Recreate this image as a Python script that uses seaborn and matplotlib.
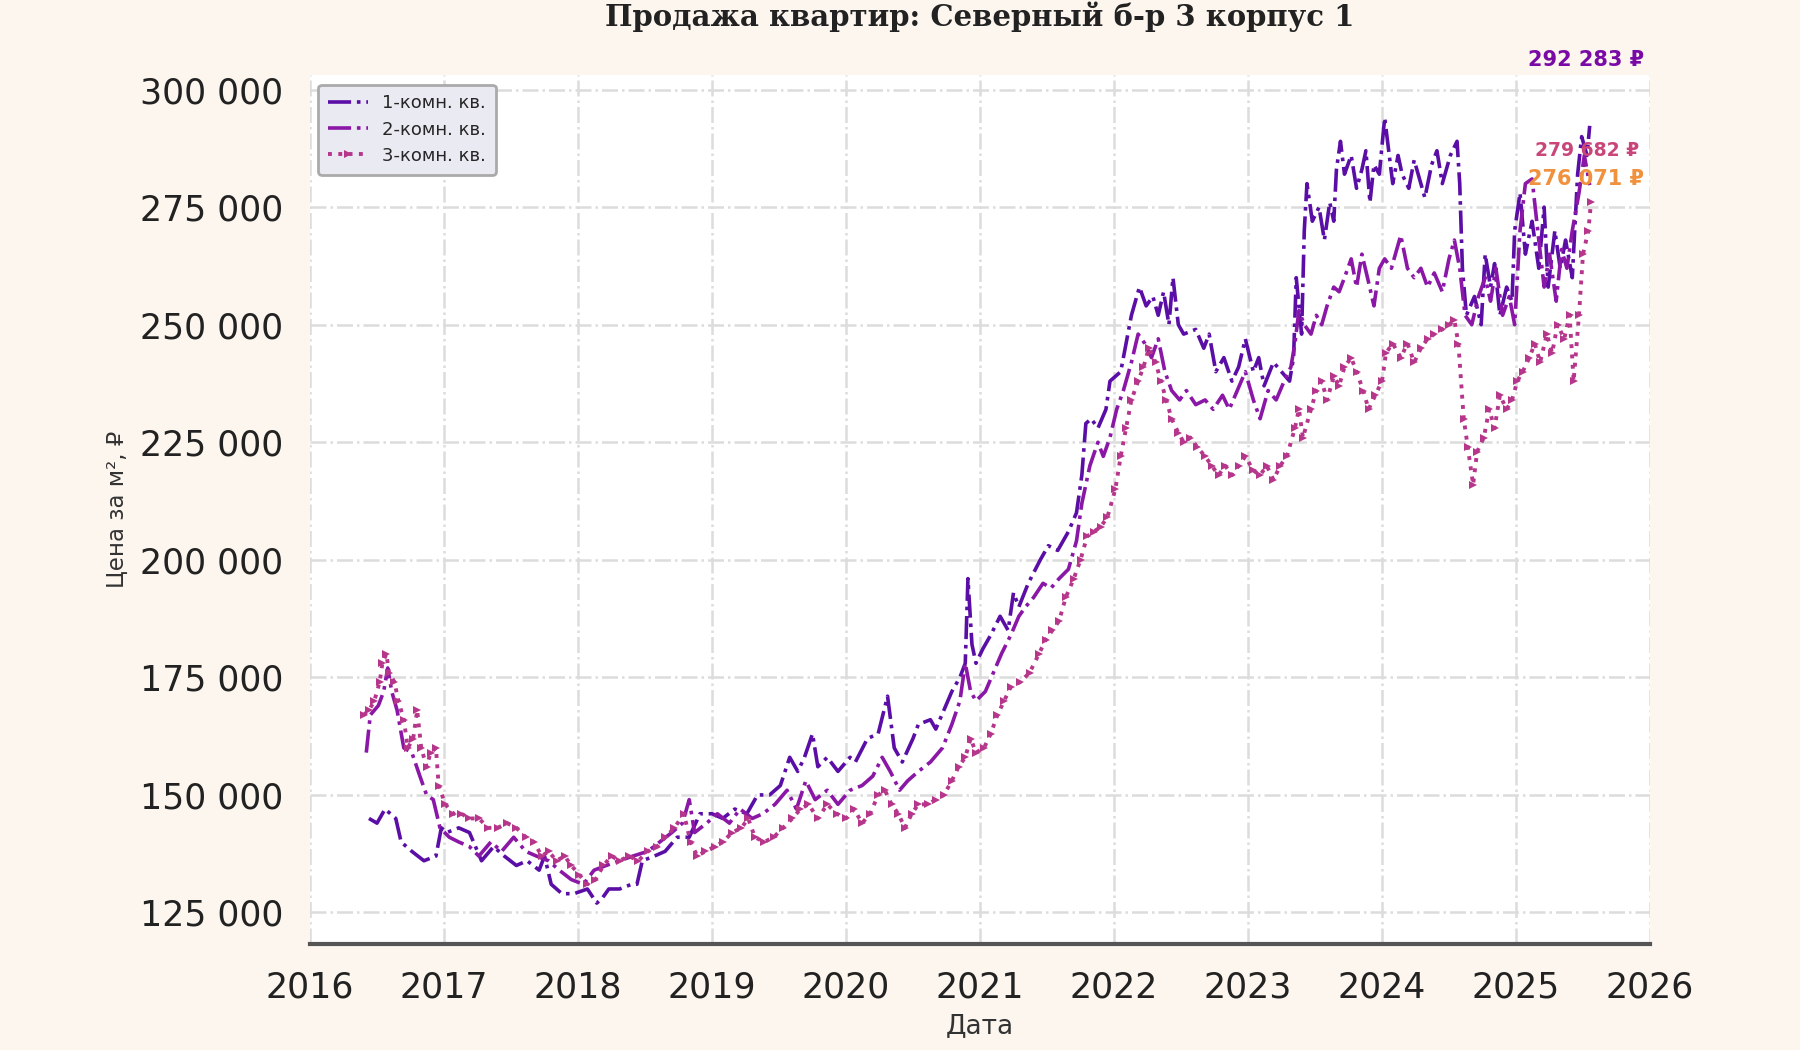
import numpy as np
import pandas as pd
import matplotlib
matplotlib.use("Agg")
import matplotlib.pyplot as plt
from matplotlib.ticker import FuncFormatter
import seaborn as sns

# ---------------- data (decimal years, price per m2 in thousands RUB) ----------------
yr1 = [2016.44, 2016.50, 2016.56, 2016.64, 2016.68, 2016.76, 2016.85, 2016.94, 2016.98, 2017.02,
       2017.11, 2017.19, 2017.28, 2017.37, 2017.45, 2017.54, 2017.62, 2017.71, 2017.75, 2017.80,
       2017.88, 2017.97, 2018.07, 2018.14, 2018.18, 2018.23, 2018.31, 2018.40, 2018.44, 2018.48,
       2018.57, 2018.65, 2018.74, 2018.83, 2018.91, 2019.00, 2019.08, 2019.17, 2019.26, 2019.34,
       2019.43, 2019.51, 2019.58, 2019.64, 2019.69, 2019.75, 2019.79, 2019.86, 2019.94, 2020.03,
       2020.07, 2020.16, 2020.24, 2020.31, 2020.36, 2020.42, 2020.50, 2020.54, 2020.63, 2020.67,
       2020.73, 2020.79, 2020.85, 2020.89, 2020.91, 2020.94, 2020.97, 2021.02, 2021.08, 2021.15,
       2021.21, 2021.25, 2021.29, 2021.36, 2021.45, 2021.51, 2021.58, 2021.66, 2021.72, 2021.76,
       2021.79, 2021.83, 2021.88, 2021.94, 2021.97, 2022.05, 2022.13, 2022.19, 2022.24, 2022.29,
       2022.33, 2022.37, 2022.41, 2022.44, 2022.48, 2022.52, 2022.61, 2022.67, 2022.71, 2022.76,
       2022.82, 2022.88, 2022.93, 2022.98, 2023.04, 2023.08, 2023.12, 2023.19, 2023.25, 2023.31,
       2023.34, 2023.36, 2023.40, 2023.42, 2023.44, 2023.48, 2023.53, 2023.57, 2023.61, 2023.64,
       2023.66, 2023.69, 2023.72, 2023.77, 2023.81, 2023.85, 2023.88, 2023.91, 2023.94, 2023.98,
       2024.02, 2024.05, 2024.08, 2024.12, 2024.15, 2024.20, 2024.24, 2024.29, 2024.32, 2024.37,
       2024.41, 2024.45, 2024.51, 2024.56, 2024.58, 2024.60, 2024.63, 2024.69, 2024.74, 2024.77,
       2024.81, 2024.84, 2024.88, 2024.93, 2024.97, 2024.99, 2025.03, 2025.07, 2025.12, 2025.17,
       2025.21, 2025.24, 2025.29, 2025.33, 2025.37, 2025.42, 2025.46, 2025.49, 2025.53, 2025.55]
val1 = [145, 144, 147, 145, 140, 138, 136, 137, 143, 142,
        143, 142, 136, 139, 137, 135, 136, 134, 137, 131,
        129, 129, 130, 127, 128, 130, 130, 131, 131, 136,
        137, 138, 141, 141, 146, 146, 145, 147, 146, 150,
        150, 152, 158, 155, 158, 163, 156, 158, 155, 158,
        157, 162, 163, 171, 160, 157, 162, 165, 166, 164,
        168, 172, 175, 178, 196, 182, 178, 181, 184, 188,
        185, 193, 190, 195, 200, 203, 202, 206, 210, 218,
        229, 230, 228, 232, 238, 240, 252, 258, 254, 256,
        252, 257, 250, 260, 250, 248, 249, 245, 248, 240,
        243, 238, 241, 247, 240, 243, 237, 242, 240, 238,
        243, 260, 248, 270, 280, 272, 275, 268, 276, 272,
        283, 289, 282, 286, 279, 283, 287, 276, 284, 282,
        294, 287, 280, 286, 282, 279, 285, 280, 277, 284,
        287, 280, 286, 289, 280, 262, 252, 256, 250, 265,
        258, 263, 252, 258, 255, 270, 278, 265, 272, 262,
        275, 258, 270, 262, 268, 260, 282, 290, 286, 292.283]

yr2 = [2016.42, 2016.45, 2016.51, 2016.55, 2016.58, 2016.61, 2016.65, 2016.70, 2016.76, 2016.82,
       2016.87, 2016.92, 2016.97, 2017.04, 2017.11, 2017.19, 2017.26, 2017.35, 2017.43, 2017.52,
       2017.61, 2017.69, 2017.78, 2017.86, 2017.95, 2018.04, 2018.12, 2018.21, 2018.31, 2018.41,
       2018.52, 2018.61, 2018.70, 2018.78, 2018.83, 2018.87, 2018.96, 2019.04, 2019.13, 2019.21,
       2019.30, 2019.38, 2019.47, 2019.56, 2019.63, 2019.70, 2019.77, 2019.86, 2019.94, 2020.03,
       2020.12, 2020.20, 2020.27, 2020.33, 2020.40, 2020.46, 2020.54, 2020.63, 2020.72, 2020.79,
       2020.85, 2020.89, 2020.93, 2020.97, 2021.04, 2021.10, 2021.16, 2021.23, 2021.29, 2021.34,
       2021.40, 2021.47, 2021.53, 2021.59, 2021.66, 2021.72, 2021.76, 2021.82, 2021.88, 2021.92,
       2021.97, 2022.02, 2022.07, 2022.13, 2022.18, 2022.23, 2022.28, 2022.33, 2022.38, 2022.43,
       2022.49, 2022.54, 2022.61, 2022.68, 2022.74, 2022.81, 2022.86, 2022.92, 2022.98, 2023.04,
       2023.09, 2023.15, 2023.21, 2023.27, 2023.32, 2023.35, 2023.38, 2023.42, 2023.47, 2023.51,
       2023.55, 2023.59, 2023.64, 2023.68, 2023.72, 2023.77, 2023.81, 2023.85, 2023.90, 2023.94,
       2023.98, 2024.02, 2024.07, 2024.11, 2024.14, 2024.19, 2024.24, 2024.29, 2024.34, 2024.39,
       2024.45, 2024.50, 2024.54, 2024.58, 2024.62, 2024.67, 2024.72, 2024.77, 2024.81, 2024.85,
       2024.90, 2024.95, 2024.99, 2025.03, 2025.07, 2025.12, 2025.17, 2025.21, 2025.25, 2025.30,
       2025.34, 2025.38, 2025.42, 2025.47, 2025.51, 2025.55]
val2 = [159, 167, 169, 172, 177, 172, 168, 160, 159, 154,
        150, 149, 143, 141, 140, 139, 137, 140, 138, 141,
        138, 137, 136, 134, 132, 131, 134, 135, 136, 137,
        138, 140, 142, 144, 149, 142, 144, 146, 144, 147,
        145, 146, 148, 151, 147, 153, 149, 151, 148, 151,
        152, 154, 158, 155, 151, 153, 155, 157, 160, 165,
        170, 178, 172, 170, 172, 176, 180, 184, 188, 190,
        192, 195, 194, 196, 198, 204, 212, 220, 225, 222,
        226, 232, 236, 242, 248, 246, 243, 247, 240, 236,
        234, 236, 233, 234, 232, 235, 232, 236, 240, 234,
        230, 236, 234, 238, 241, 246, 253, 250, 248, 252,
        250, 254, 258, 257, 260, 264, 258, 265, 259, 254,
        262, 264, 262, 266, 269, 262, 260, 262, 258, 261,
        257, 264, 268, 262, 252, 250, 256, 260, 255, 262,
        252, 256, 250, 270, 280, 281, 268, 258, 265, 255,
        266, 262, 270, 278, 286, 279.682]

yr3 = [2016.40, 2016.44, 2016.48, 2016.52, 2016.54, 2016.57, 2016.59, 2016.63, 2016.66, 2016.70,
       2016.73, 2016.77, 2016.80, 2016.83, 2016.87, 2016.90, 2016.94, 2016.96, 2017.01, 2017.07,
       2017.13, 2017.19, 2017.26, 2017.33, 2017.40, 2017.47, 2017.54, 2017.61, 2017.67, 2017.73,
       2017.78, 2017.84, 2017.90, 2017.95, 2018.01, 2018.07, 2018.13, 2018.19, 2018.25, 2018.31,
       2018.38, 2018.45, 2018.52, 2018.59, 2018.65, 2018.72, 2018.79, 2018.84, 2018.89, 2018.95,
       2019.02, 2019.08, 2019.15, 2019.22, 2019.27, 2019.32, 2019.39, 2019.46, 2019.53, 2019.60,
       2019.66, 2019.72, 2019.79, 2019.86, 2019.93, 2020.00, 2020.06, 2020.12, 2020.18, 2020.24,
       2020.29, 2020.34, 2020.39, 2020.44, 2020.49, 2020.54, 2020.61, 2020.67, 2020.73, 2020.79,
       2020.84, 2020.89, 2020.93, 2020.97, 2021.03, 2021.08, 2021.13, 2021.18, 2021.23, 2021.30,
       2021.37, 2021.44, 2021.49, 2021.54, 2021.59, 2021.64, 2021.70, 2021.75, 2021.80, 2021.85,
       2021.90, 2021.95, 2022.01, 2022.05, 2022.09, 2022.13, 2022.18, 2022.22, 2022.26, 2022.31,
       2022.35, 2022.39, 2022.43, 2022.48, 2022.52, 2022.57, 2022.62, 2022.68, 2022.73, 2022.78,
       2022.83, 2022.88, 2022.93, 2022.98, 2023.04, 2023.09, 2023.14, 2023.19, 2023.24, 2023.29,
       2023.35, 2023.38, 2023.41, 2023.47, 2023.51, 2023.55, 2023.59, 2023.64, 2023.68, 2023.72,
       2023.77, 2023.81, 2023.86, 2023.90, 2023.95, 2024.00, 2024.03, 2024.08, 2024.14, 2024.19,
       2024.24, 2024.29, 2024.34, 2024.39, 2024.45, 2024.50, 2024.54, 2024.57, 2024.61, 2024.64,
       2024.68, 2024.71, 2024.76, 2024.80, 2024.84, 2024.88, 2024.93, 2024.97, 2025.01, 2025.05,
       2025.10, 2025.14, 2025.18, 2025.23, 2025.27, 2025.31, 2025.36, 2025.40, 2025.43, 2025.47,
       2025.50, 2025.54, 2025.56]
val3 = [167, 168, 170, 174, 178, 180, 176, 174, 170, 166,
        160, 162, 168, 160, 156, 159, 160, 152, 148, 146,
        146, 145, 145, 143, 143, 144, 143, 141, 140, 137,
        138, 136, 137, 135, 133, 131, 132, 135, 137, 136,
        137, 136, 138, 139, 141, 143, 146, 140, 137, 138,
        139, 140, 142, 143, 145, 141, 140, 141, 143, 145,
        147, 148, 145, 148, 146, 145, 147, 144, 146, 150,
        151, 148, 146, 143, 146, 148, 148, 149, 150, 153,
        156, 158, 162, 159, 160, 163, 167, 170, 173, 174,
        176, 180, 183, 185, 187, 192, 196, 200, 205, 206,
        207, 209, 215, 222, 228, 234, 238, 241, 245, 242,
        238, 234, 230, 227, 225, 226, 224, 222, 220, 218,
        220, 218, 220, 222, 219, 218, 220, 217, 220, 222,
        228, 232, 226, 232, 236, 238, 234, 239, 237, 241,
        243, 240, 236, 232, 235, 238, 244, 246, 243, 246,
        242, 245, 247, 248, 249, 250, 251, 246, 230, 224,
        216, 223, 226, 232, 228, 235, 232, 234, 238, 240,
        243, 246, 242, 248, 244, 250, 247, 252, 238, 252,
        265, 270, 276.071]

series_names = ["1-комн. кв.", "2-комн. кв.", "3-комн. кв."]
last_values = [292283, 279682, 276071]
y_ticks = [125000, 150000, 175000, 200000, 225000, 250000, 275000, 300000]
x_ticks = [2016, 2017, 2018, 2019, 2020, 2021, 2022, 2023, 2024, 2025, 2026]

# ---------------- styling ----------------
sns.set_theme(style="whitegrid")
plt.rcParams["font.family"] = ["DejaVu Sans"]

line_colors = ["#5a0ea6", "#8b17a7", "#b5368a"]
label_colors = ["#7a0aa6", "#c8467a", "#f0913e"]
label_sizes = [15, 13.5, 15]
bg = "#fdf6ee"

fig = plt.figure(figsize=(18, 10.5), dpi=100, facecolor=bg)
ax = fig.add_axes([310 / 1800, 1 - 944 / 1050, 1340 / 1800, 869 / 1050])
ax.set_facecolor("white")

frames = [
    pd.DataFrame({"year": yr1, "price": np.array(val1) * 1000}),
    pd.DataFrame({"year": yr2, "price": np.array(val2) * 1000}),
    pd.DataFrame({"year": yr3, "price": np.array(val3) * 1000}),
]
styles = [
    dict(linestyle="-.", linewidth=2.6),
    dict(linestyle="-.", linewidth=2.6),
    dict(linestyle=":", linewidth=2.8, marker=">", markersize=6, markeredgewidth=0),
]
for df, name, col, st in zip(frames, series_names, line_colors, styles):
    sns.lineplot(data=df, x="year", y="price", ax=ax, color=col, label=name,
                 sort=False, estimator=None, **st)

ax.set_xlim(2016, 2026)
ax.set_ylim(118300, 303100)
ax.set_xticks(x_ticks)
ax.set_yticks(y_ticks)
ax.yaxis.set_major_formatter(FuncFormatter(lambda v, p: f"{int(v):,}".replace(",", " ")))
ax.xaxis.set_major_formatter(FuncFormatter(lambda v, p: f"{int(v)}"))
ax.tick_params(axis="both", labelsize=25, length=0, colors="#222222")
ax.tick_params(axis="y", pad=19)
ax.tick_params(axis="x", pad=19)

ax.grid(True, linestyle="-.", color="#dcdcdc", linewidth=1.8)
for s in ["left", "right", "top"]:
    ax.spines[s].set_visible(False)
ax.spines["bottom"].set_color("#555555")
ax.spines["bottom"].set_linewidth(3)

ax.set_xlabel("Дата", fontsize=19, color="#333333", labelpad=6)
ax.set_ylabel("Цена за м², ₽", fontsize=16.5, color="#333333", labelpad=8)

fig.text(ax.get_position().x0 + ax.get_position().width / 2, 1 - 17 / 1050,
         "Продажа квартир: Северный б-р 3 корпус 1", family="DejaVu Serif",
         fontweight="bold", fontsize=21, ha="center", va="center", color="#222222")

leg = ax.legend(loc="upper left", bbox_to_anchor=(0.006, 0.989), borderaxespad=0,
                fontsize=13, frameon=True, facecolor="#eaeaf2", edgecolor="#aaaaaa",
                framealpha=1, fancybox=True, handlelength=2.2, borderpad=0.55,
                labelspacing=0.45)
leg.get_frame().set_linewidth(2)

label_y = [306300, 287000, 281000]
label_x = [2025.955, 2025.92, 2025.955]
for v, col, ly, lx, fs in zip(last_values, label_colors, label_y, label_x, label_sizes):
    ax.text(lx, ly, f"{v:,} ₽".replace(",", " "), color=col, fontsize=fs,
            fontweight="bold", ha="right", va="center", clip_on=False)

fig.savefig("out.png", dpi=100, facecolor=bg)
